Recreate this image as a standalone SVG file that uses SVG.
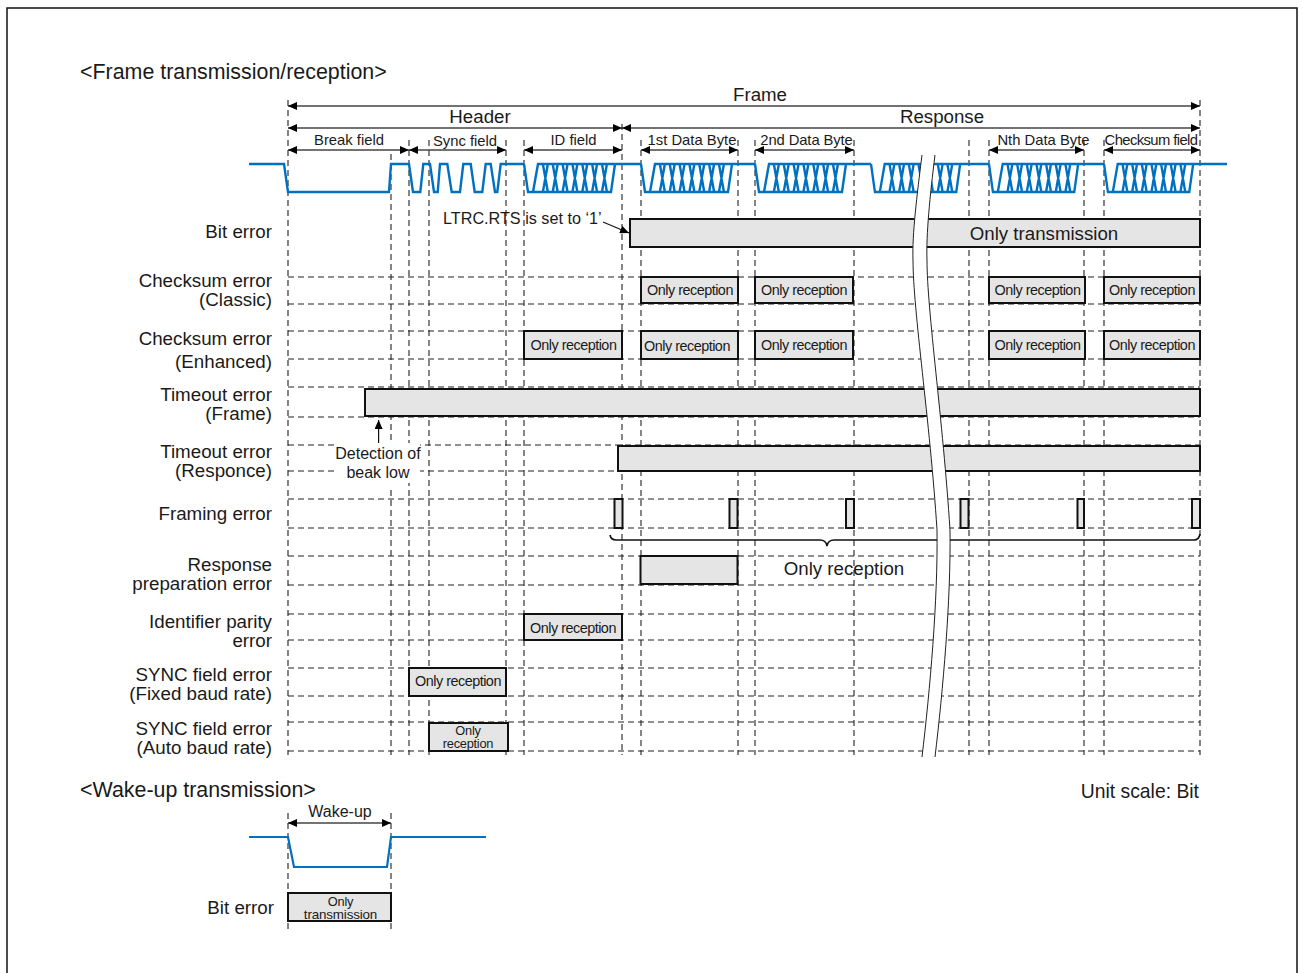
<svg xmlns="http://www.w3.org/2000/svg" xmlns:xlink="http://www.w3.org/1999/xlink" width="1303" height="973" viewBox="0 0 1303 973">
<style>
text{font-family:"Liberation Sans",Arial,sans-serif;fill:#1a1a1a}
.l{font-size:18.75px;text-anchor:end}
.h{font-size:21.4px}
.c{font-size:18.7px;text-anchor:middle}
.f{font-size:14.8px;text-anchor:middle}
.n{font-size:16px;text-anchor:middle}
.o{font-size:14.4px;text-anchor:middle;letter-spacing:-.5px}
.s{font-size:12.8px;text-anchor:middle;letter-spacing:-.25px}
.d{stroke:#222;stroke-width:1.1;stroke-dasharray:6 4;fill:none}
.b{fill:#e5e5e5;stroke:#111;stroke-width:2}
.w{fill:none;stroke:#0070c0;stroke-width:2.4}
.a{fill:none;stroke:#444;stroke-width:1.4;marker-start:url(#ah);marker-end:url(#ah)}
.p{fill:none;stroke:#111;stroke-width:1.2}
</style>
<defs>
<marker id="ah" markerUnits="userSpaceOnUse" markerWidth="9" markerHeight="8" refX="9" refY="4" orient="auto-start-reverse"><path d="M0,0L9,4L0,8Z" fill="#000"/></marker>
<path id="byte" d="M0,164L4,192H87L91,164M9,192L14,164H91M18.85,164l5,28M18.85,192l5,-28M28.7,164l5,28M28.7,192l5,-28M38.55,164l5,28M38.55,192l5,-28M48.4,164l5,28M48.4,192l5,-28M58.25,164l5,28M58.25,192l5,-28M68.1,164l5,28M68.1,192l5,-28M77.95,164l5,28M77.95,192l5,-28"/>
</defs>
<rect id="frame" x="7" y="8" width="1290" height="975" fill="#fff" stroke="#111" stroke-width="1.5"/>
<g id="connectors">
<g id="grid">
<path class="d" d="M288,100V755M1200,100V755M622,124V755M391,154V443M391,490V755M409,140V443M409,480V755M429,140V755M506,140V755M524,140V755M641,140V755M738,140V755M755,140V755M854,140V755M969,140V755M989,140V755M1084,140V755M1104,140V755"/>
<path class="d" d="M288,277H1200M288,304H1200M288,331H1200M288,359H1200M288,387H1200M288,417H1200M288,445H338M415,445H1200M288,471H337M418,471H1200M288,499H1200M288,528H1200M288,556H1200M288,585H1200M288,614H1200M288,640H1200M288,668H1200M288,696H1200M288,722H1200M288,751H1200"/>
<path class="d" d="M288,813V930M391,813V930"/>
</g>
<g id="dimension-arrows">
<path class="a" d="M288,106H1200"/>
<path class="a" d="M288,128H622"/>
<path class="a" d="M622,128H1200"/>
<path class="a" d="M288,150H409"/>
<path class="a" d="M409,150H506"/>
<path class="a" d="M524,150H622"/>
<path class="a" d="M641,150H738"/>
<path class="a" d="M755,150H854"/>
<path class="a" d="M989,150H1084"/>
<path class="a" d="M1104,150H1200"/>
<path class="a" d="M288,823H391"/>
</g>
<path class="p" d="M378.6,443V420" marker-end="url(#ah)"/>
<path class="p" d="M603,222L629,233" marker-end="url(#ah)"/>
<path d="M610,535Q611,540 616,540H820Q826,540 827,546Q828,540 834,540H1194Q1199,540 1200,534" fill="none" stroke="#111" stroke-width="1.6"/>
</g>
<g id="waveform">
<path class="w" d="M249,164H284L288,192H389L391,164H409L413,192H420.3L423.3,164H430L434,192H437.7L440,164H447.3L451.7,192H460L463.3,164H470.7L474.7,192H482.3L485.7,164H490.7L495,192H497.3L500.7,164H524M615,164H641M732,164H755M846,164H871M960,164H989M1078,164H1104M1193,164H1227"/>
<use xlink:href="#byte" class="w" transform="translate(524,0)"/>
<use xlink:href="#byte" class="w" transform="translate(641,0)"/>
<use xlink:href="#byte" class="w" transform="translate(755,0)"/>
<use xlink:href="#byte" class="w" transform="translate(871,0) scale(.98,1)"/>
<use xlink:href="#byte" class="w" transform="translate(989,0) scale(.98,1)"/>
<use xlink:href="#byte" class="w" transform="translate(1104,0) scale(.98,1)"/>
</g>
<g id="wakeup-waveform"><path d="M249,837H288L294,867H387L391,837H486" fill="none" stroke="#0070c0" stroke-width="2.2"/></g>
<g id="bit-error-bar"><rect class="b" x="630" y="219" width="570" height="28"/></g>
<g id="classic-boxes">
<rect class="b" x="641" y="277" width="97" height="26"/><rect class="b" x="755" y="277" width="98" height="26"/><rect class="b" x="989" y="277" width="96" height="26"/><rect class="b" x="1104" y="277" width="96" height="26"/>
</g>
<g id="enhanced-boxes">
<rect class="b" x="524" y="331" width="98" height="28"/><rect class="b" x="641" y="331" width="97" height="28"/><rect class="b" x="755" y="331" width="98" height="28"/><rect class="b" x="989" y="331" width="96" height="28"/><rect class="b" x="1104" y="331" width="96" height="28"/>
</g>
<g id="timeout-bars">
<rect class="b" x="365" y="389" width="835" height="27"/><rect class="b" x="618" y="446" width="582" height="25"/>
</g>
<g id="framing-bars">
<rect class="b" x="614.5" y="499" width="8" height="29"/><rect class="b" x="729.5" y="499" width="8" height="29"/><rect class="b" x="846" y="499" width="8" height="29"/><rect class="b" x="960.5" y="499" width="8" height="29"/><rect class="b" x="1077.5" y="499" width="6.5" height="29"/><rect class="b" x="1192" y="499" width="8" height="29"/>
</g>
<g id="other-boxes">
<rect class="b" x="640.5" y="556" width="97" height="28"/>
<rect class="b" x="524" y="614" width="98" height="26"/>
<rect class="b" x="409" y="668" width="97" height="28"/>
<rect class="b" x="429" y="723" width="79" height="28"/>
<rect class="b" x="288" y="893" width="103" height="28"/>
</g>
<g id="axis-break">
<path d="M922,155C917,195 912,235 913,260C913,310 930,420 937,530C938,600 930,690 922,757H935C943,690 951,600 950,530C943,420 927,310 927,260C926,235 930,195 935,155Z" fill="#fff"/>
<path d="M922,155C917,195 912,235 913,260C913,310 930,420 937,530C938,600 930,690 922,757M935,757C943,690 951,600 950,530C943,420 927,310 927,260C926,235 930,195 935,155" fill="none" stroke="#222" stroke-width="1"/>
</g>
<g id="headings">
<text class="h" x="80" y="79">&lt;Frame transmission/reception&gt;</text>
<text class="h" x="80" y="797">&lt;Wake-up transmission&gt;</text>
<text x="1199" y="798" text-anchor="end" style="font-size:19.35px">Unit scale: Bit</text>
</g>
<g id="row-labels">
<text class="l" x="272" y="238">Bit error</text>
<text class="l" x="272" y="287">Checksum error</text><text class="l" x="272" y="306">(Classic)</text>
<text class="l" x="272" y="345">Checksum error</text><text class="l" x="272" y="368">(Enhanced)</text>
<text class="l" x="272" y="401">Timeout error</text><text class="l" x="272" y="420">(Frame)</text>
<text class="l" x="272" y="458">Timeout error</text><text class="l" x="272" y="477">(Responce)</text>
<text class="l" x="272" y="520">Framing error</text>
<text class="l" x="272" y="571">Response</text><text class="l" x="272" y="590">preparation error</text>
<text class="l" x="272" y="628">Identifier parity</text><text class="l" x="272" y="647">error</text>
<text class="l" x="272" y="681">SYNC field error</text><text class="l" x="272" y="700">(Fixed baud rate)</text>
<text class="l" x="272" y="735">SYNC field error</text><text class="l" x="272" y="754">(Auto baud rate)</text>
<text class="l" x="274" y="914">Bit error</text>
</g>
<g id="span-labels">
<text class="c" x="760" y="101">Frame</text>
<text class="c" x="480" y="123">Header</text>
<text class="c" x="942" y="123">Response</text>
<text class="f" x="349" y="145">Break field</text>
<text class="f" x="465" y="146">Sync field</text>
<text class="f" x="573.5" y="145">ID field</text>
<text class="f" x="692" y="145">1st Data Byte</text>
<text class="f" x="806.5" y="145" style="letter-spacing:-.1px">2nd Data Byte</text>
<text class="f" x="1043.5" y="145">Nth Data Byte</text>
<text class="f" x="1151" y="145" style="letter-spacing:-.6px">Checksum field</text>
<text x="340" y="817" text-anchor="middle" style="font-size:16px">Wake-up</text>
</g>
<g id="notes">
<text x="443" y="224" style="font-size:16.2px">LTRC.RTS is set to ‘1’</text>
<rect x="336" y="444" width="84" height="39" fill="#fff"/>
<text class="n" x="378" y="459">Detection of</text>
<text class="n" x="378" y="478">beak low</text>
<text class="c" x="1044" y="240">Only transmission</text>
<text class="c" x="844" y="575">Only reception</text>
</g>
<g id="box-labels">
<text class="o" x="690" y="295">Only reception</text><text class="o" x="804" y="295">Only reception</text><text class="o" x="1037.5" y="295">Only reception</text><text class="o" x="1152" y="295">Only reception</text>
<text class="o" x="573.5" y="350">Only reception</text><text class="o" x="687" y="351">Only reception</text><text class="o" x="804" y="350">Only reception</text><text class="o" x="1037.5" y="350">Only reception</text><text class="o" x="1152" y="350">Only reception</text>
<text class="o" x="573" y="633">Only reception</text>
<text class="o" x="458" y="686">Only reception</text>
<text class="s" x="468" y="735">Only</text><text class="s" x="468" y="748">reception</text>
<text class="s" x="340.5" y="906">Only</text><text class="s" x="340.5" y="919" style="font-size:13.4px;letter-spacing:-.15px">transmission</text>
</g>
</svg>
